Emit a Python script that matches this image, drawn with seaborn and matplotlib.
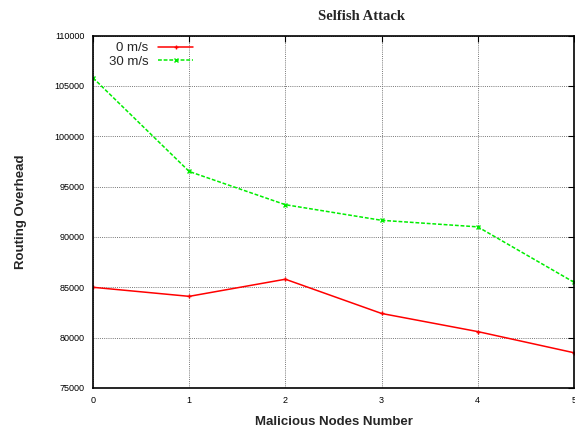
import matplotlib
matplotlib.use("Agg")
import matplotlib.pyplot as plt
import seaborn as sns
import pandas as pd

# Routing overhead vs. number of malicious nodes, per node speed
nodes = [0, 1, 2, 3, 4, 5]
speed_0 = [85000, 84100, 85800, 82400, 80600, 78500]
speed_30 = [105800, 96500, 93200, 91650, 91000, 85500]
series_names = ["0 m/s", "30 m/s"]
y_ticks = [75000, 80000, 85000, 90000, 95000, 100000, 105000, 110000]

df = pd.concat([
    pd.DataFrame({"nodes": nodes, "overhead": speed_0, "speed": series_names[0]}),
    pd.DataFrame({"nodes": nodes, "overhead": speed_30, "speed": series_names[1]}),
])

sns.set_style("white")
plt.rcParams["font.family"] = ["Liberation Sans", "DejaVu Sans"]

fig = plt.figure(figsize=(5.75, 4.29), dpi=100)
ax = fig.add_axes([0.1617, 0.0956, 0.8365, 0.8216])

sns.lineplot(
    data=df, x="nodes", y="overhead", hue="speed", style="speed",
    palette={series_names[0]: "#ff0000", series_names[1]: "#00ee00"},
    dashes={series_names[0]: "", series_names[1]: (2.5, 1.2)},
    markers={series_names[0]: "+", series_names[1]: "x"},
    markersize=3.5, markeredgewidth=1.0, linewidth=1.1, ax=ax,
)
# markers take the colour of their line
for ln in ax.lines:
    ln.set_markeredgecolor(ln.get_color())

ax.set_xlim(0, 5)
ax.set_ylim(75000, 110000)
ax.set_xticks(nodes)
ax.set_yticks(y_ticks)
ax.set_xticklabels([str(n) for n in nodes], fontsize=6.5)
ax.set_yticklabels([str(v) for v in y_ticks], fontsize=6.5)
ax.tick_params(direction="in", length=4, width=0.8, top=True, right=True,
               colors="black", pad=6)
ax.grid(True, linestyle=(0, (1, 1.2)), color="#777777", linewidth=0.7)
for s in ax.spines.values():
    s.set_color("black")
    s.set_linewidth(1.2)

ax.set_xlabel("Malicious Nodes Number", fontsize=9.5, fontweight="bold", labelpad=8)
ax.set_ylabel("Routing Overhead", fontsize=9.5, fontweight="bold", labelpad=20)
fig.text(362 / 575, 1 - 17 / 429, "Selfish Attack", fontsize=10.5, fontweight="bold",
         family=["Liberation Serif", "DejaVu Serif"], ha="center", va="center")

# gnuplot-style key: right-aligned labels followed by the line samples
leg = ax.legend(loc="upper left", frameon=False, markerfirst=False,
                fontsize=9.5, handlelength=2.65, handletextpad=0.76,
                borderaxespad=0.1, labelspacing=0.1, bbox_to_anchor=(0.019, 1.0))
for t in leg.get_texts():
    t.set_horizontalalignment("right")
leg._legend_box.align = "right"
for h in leg.legend_handles:
    h.set_markeredgecolor(h.get_color())

fig.savefig("out.png", dpi=100)
